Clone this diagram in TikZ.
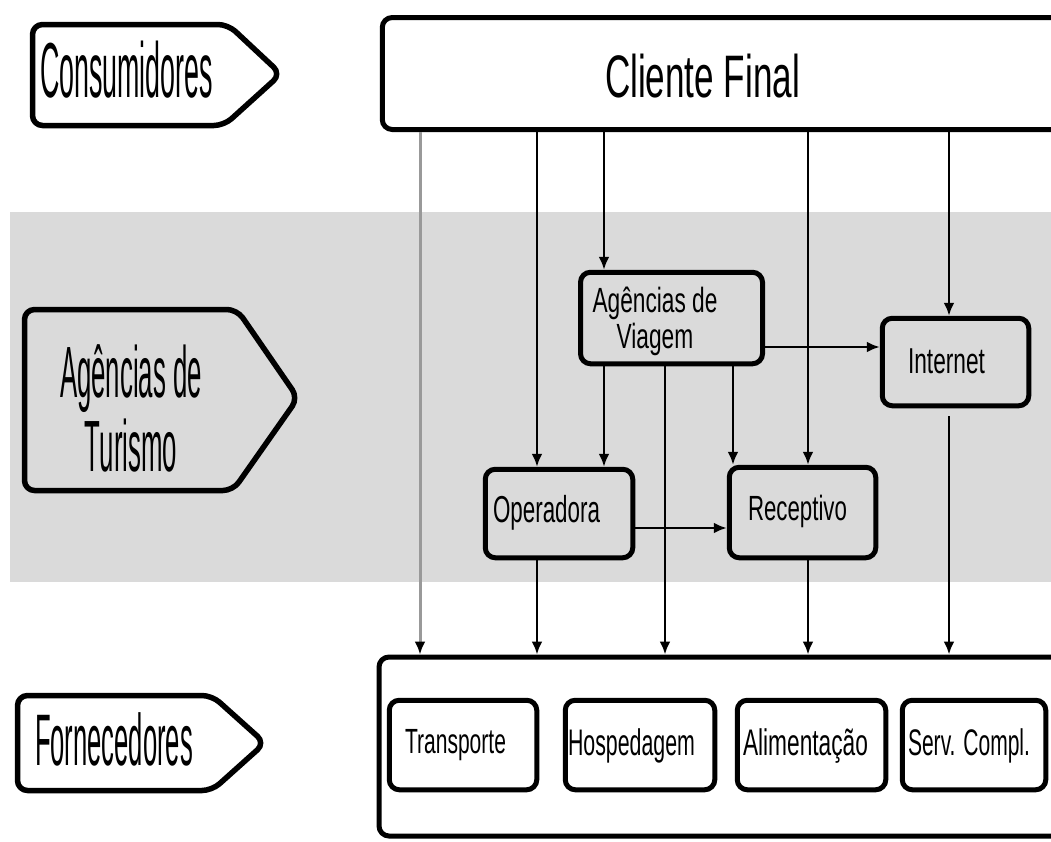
\documentclass[tikz,border=0pt]{standalone}
\usepackage{fontspec}
\setmainfont{Liberation Sans}
\usepackage{graphicx}
\usetikzlibrary{arrows.meta}
\newcommand{\fitw}[3]{\resizebox{#1pt}{\height}{\fontsize{#2pt}{#2pt}\selectfont #3}}
\newcommand{\fitt}[4]{\resizebox{#1pt}{\height}{\fontsize{#2pt}{#3pt}\selectfont\begin{tabular}[t]{@{}c@{}}#4\end{tabular}}}
\definecolor{band}{gray}{0.855}
\tikzset{
  txt/.style={inner sep=0pt, anchor=base},
  box/.style={draw, line width=5pt, rounded corners=10pt, inner sep=0pt},
  tag/.style={draw, line width=5.5pt, rounded corners=10pt, line join=round},
  conn/.style={line width=2.6pt, -{Latex[length=13pt,width=11pt]}},
  faint/.style={draw=black!40, line width=3pt, -{Latex[length=13pt,width=11pt,color=black]}}
}
\begin{document}
\begin{tikzpicture}[x=1pt,y=-1pt]
\useasboundingbox (0,0) rectangle (1051,841);
\clip (0,0) rectangle (1051,841);
% band
\fill[band] (10,212) rectangle (1051,582);
% column / row coordinates
\coordinate (c1) at (420,0);
\coordinate (c2) at (537,0);
\coordinate (c3) at (604,0);
\coordinate (c4) at (665,0);
\coordinate (c5) at (733,0);
\coordinate (c6) at (808,0);
\coordinate (c7) at (949,0);
\coordinate (r1) at (0,347);
\coordinate (r2) at (0,528);
% left tags
\draw[tag] (32.5,24.5) -- (228,24.5) -- (281,74) -- (224,125.5) -- (32.5,125.5) -- cycle;
\node[txt] (tcons) at (126.5,97) {\fitw{173}{78}{Consumidores}};
\draw[tag] (24.5,309.5) -- (237,309.5) -- (298,398) -- (233,490.5) -- (24.5,490.5) -- cycle;
\node[txt] (tagt) at (131,397) {\fitt{142}{72.6}{73}{Agências de\\Turismo}};
\draw[tag] (17.5,695.5) -- (212,695.5) -- (265,743) -- (212,790.5) -- (17.5,790.5) -- cycle;
\node[txt] (tforn) at (114,765) {\fitw{158}{73}{Fornecedores}};
% main boxes
\node[box, fill=white, minimum width=687.5pt, minimum height=112pt] (cf) at (726,73.5) {};
\node[txt] (tcf) at (702.5,97) {\fitw{195}{60}{Cliente Final}};
\node[box, fill=white, minimum width=691pt, minimum height=179pt] (bot) at (724.5,746.5) {};
\node[box, minimum width=182pt, minimum height=91.5pt] (ag) at (671.5,318) {};
\node[txt] (tag) at (655,312) {\fitt{125}{35}{36}{Agências de\\Viagem}};
\node[box, minimum width=146.5pt, minimum height=87.5pt] (in) at (955.5,362) {};
\node[txt] (tin) at (946.5,373) {\fitw{77}{36}{Internet}};
\node[box, minimum width=147.5pt, minimum height=88.5pt] (op) at (559,513.5) {};
\node[txt] (top) at (546.5,522) {\fitw{107}{37.5}{Operadora}};
\node[box, minimum width=146.5pt, minimum height=90.5pt] (rc) at (802.5,512.5) {};
\node[txt] (trc) at (797.5,520) {\fitw{99}{35}{Receptivo}};
% suppliers
\node[box, minimum width=147.5pt, minimum height=89.5pt] (tr) at (463,745) {};
\node[txt] (ttr) at (455.5,753) {\fitw{101}{35}{Transporte}};
\node[box, minimum width=149.5pt, minimum height=89.5pt] (ho) at (640,745) {};
\node[txt] (tho) at (631.5,755) {\fitw{127}{37}{Hospedagem}};
\node[box, minimum width=148.5pt, minimum height=89.5pt] (al) at (811.5,745) {};
\node[txt] (tal) at (805.5,755) {\fitw{125}{37}{Alimentação}};
\node[box, minimum width=143.5pt, minimum height=89.5pt] (se) at (974,745) {};
\node[txt] (tse) at (969,755) {\fitw{122}{37}{Serv. Compl.}};
% connectors
\draw[faint] (cf.south -| c1) -- (bot.north -| c1);
\draw[conn] (cf.south -| c2) -- (op.north -| c2);
\draw[conn] (cf.south -| c3) -- (ag.north -| c3);
\draw[conn] (cf.south -| c6) -- (rc.north -| c6);
\draw[conn] (cf.south -| c7) -- (in.north -| c7);
\draw[conn] (ag.south -| c3) -- (op.north -| c3);
\draw[conn] (ag.south -| c4) -- (bot.north -| c4);
\draw[conn] (ag.south -| c5) -- (rc.north -| c5);
\draw[conn] (ag.east |- r1) -- (in.west |- r1);
\draw[conn] (op.east |- r2) -- (rc.west |- r2);
\draw[conn] (op.south -| c2) -- (bot.north -| c2);
\draw[conn] (rc.south -| c6) -- (bot.north -| c6);
\draw[conn, shorten <=8pt] (in.south -| c7) -- (bot.north -| c7);
\end{tikzpicture}
\end{document}
